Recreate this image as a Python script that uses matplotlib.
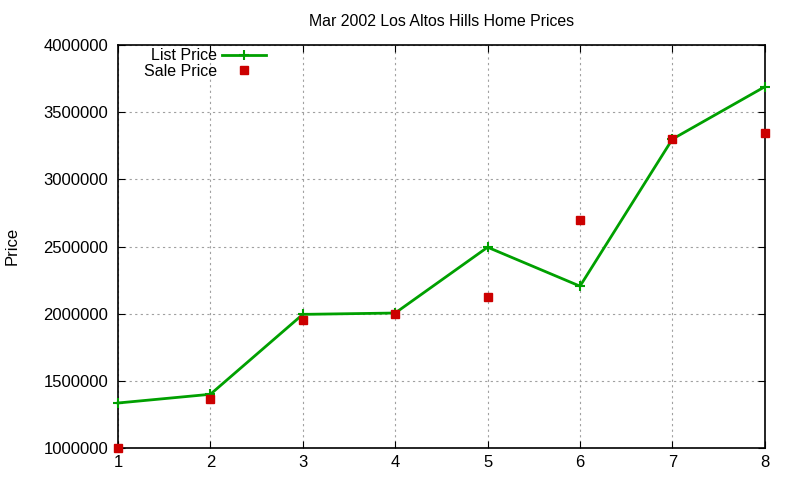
import matplotlib
matplotlib.use('Agg')
import matplotlib.pyplot as plt

plt.rcParams['font.family'] = ['Liberation Sans', 'DejaVu Sans']

# 数据
months = [1, 2, 3, 4, 5, 6, 7, 8]
list_price = [1335000, 1400000, 1995000, 2005000, 2495000, 2205000, 3300000, 3690000]
sale_price = [1000000, 1365000, 1950000, 2000000, 2125000, 2700000, 3300000, 3345000]
yticks = [1000000, 1500000, 2000000, 2500000, 3000000, 3500000, 4000000]

fig = plt.figure(figsize=(8, 4.8), dpi=100)
ax = fig.add_axes([0.1475, 0.0667, 0.8085, 0.8393])

ax.plot(months, list_price, color='#00a000', linewidth=2, marker='+',
        markersize=7, markeredgewidth=1.5, label='List Price', clip_on=False, zorder=3)
ax.plot(months, sale_price, color='#cc0000', linestyle='none', marker='s',
        markersize=6, label='Sale Price', clip_on=False, zorder=4)

ax.set_xlim(1, 8)
ax.set_ylim(1000000, 4000000)
ax.set_xticks(months)
ax.set_yticks(yticks)
ax.set_yticklabels([str(v) for v in yticks])
ax.tick_params(direction='in', top=True, right=True, labelsize=12, length=5, pad=7)
ax.tick_params(axis='x', pad=5)
ax.grid(True, color='#a0a0a0', linestyle=(0, (2, 3)), linewidth=0.8)
for s in ax.spines.values():
    s.set_linewidth(1.2)

ax.set_title('Mar 2002 Los Altos Hills Home Prices', fontsize=11.4, pad=14)
fig.text(0.015, 0.4875, 'Price', rotation=90, fontsize=12, ha='center', va='center')

ax.legend(loc='upper left', bbox_to_anchor=(0.025, 1.016), frameon=False,
          markerfirst=False, fontsize=11.5, handlelength=2.8, borderaxespad=0.2,
          labelspacing=0.05, handletextpad=0.3)

fig.savefig('out.png', dpi=100)
